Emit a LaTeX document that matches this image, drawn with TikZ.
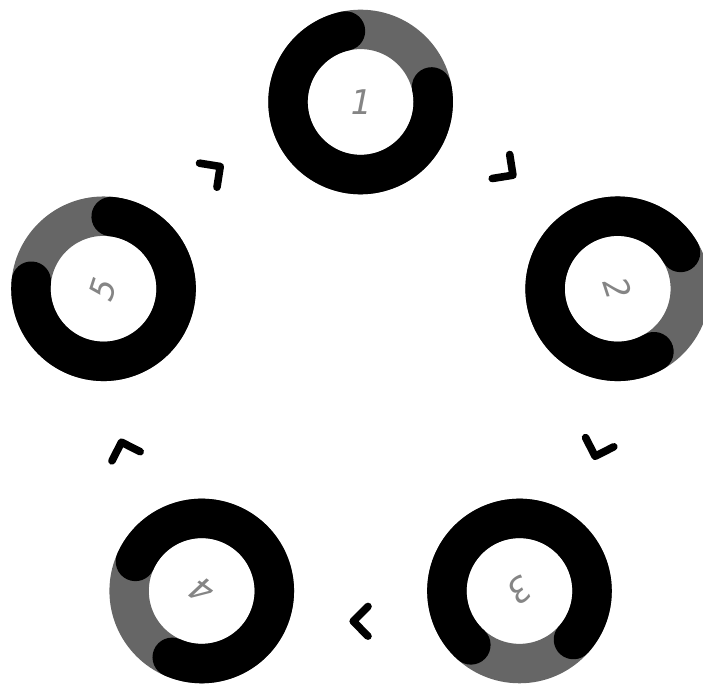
\documentclass[tikz,border=0pt]{standalone}
\usepackage{fontspec}
\newfontfamily\digitfont{DejaVu Sans Mono}
\definecolor{ringgray}{HTML}{666666}
\definecolor{labelgray}{HTML}{858585}
\tikzset{
  track/.style={draw=ringgray, line width=39.4pt},
  progress/.style={draw=black, line width=39.4pt, line cap=round},
  chevron/.style={draw=black, line width=7.6pt, line cap=round, line join=round},
  steplabel/.style={text=labelgray, font=\digitfont\itshape\fontsize{34}{34}\selectfont},
}

\begin{document}
\begin{tikzpicture}[x=1pt,y=1pt]
    \useasboundingbox (-360.6,-311.7) rectangle (342.4,372.3);

    % Rings around the cycle (gray track, black progress arc, rotated number)
    \foreach \k in {1,...,5} {
        \pgfmathsetmacro\ang{90-72*(\k-1)}
        \coordinate (c\k) at (\ang:270.3);
        \draw[track] (c\k) circle (72.6);
        \draw[progress] ([shift={(\ang+12:72.6)}]c\k) arc[start angle=\ang+12, end angle=\ang+282, radius=72.6];
        \node[steplabel, rotate=\ang-90] (n\k) at (c\k) {\k};
    }

    % Chevrons between the rings (clockwise)
    \foreach \k in {1,...,5} {
        \pgfmathsetmacro\ang{90-72*(\k-1)}
        \draw[chevron, shift={(\ang-36:249)}, rotate=\ang-126] (-7.4,14.85) -- (7.4,0) -- (-7.4,-14.85);
    }

\end{tikzpicture}
\end{document}
